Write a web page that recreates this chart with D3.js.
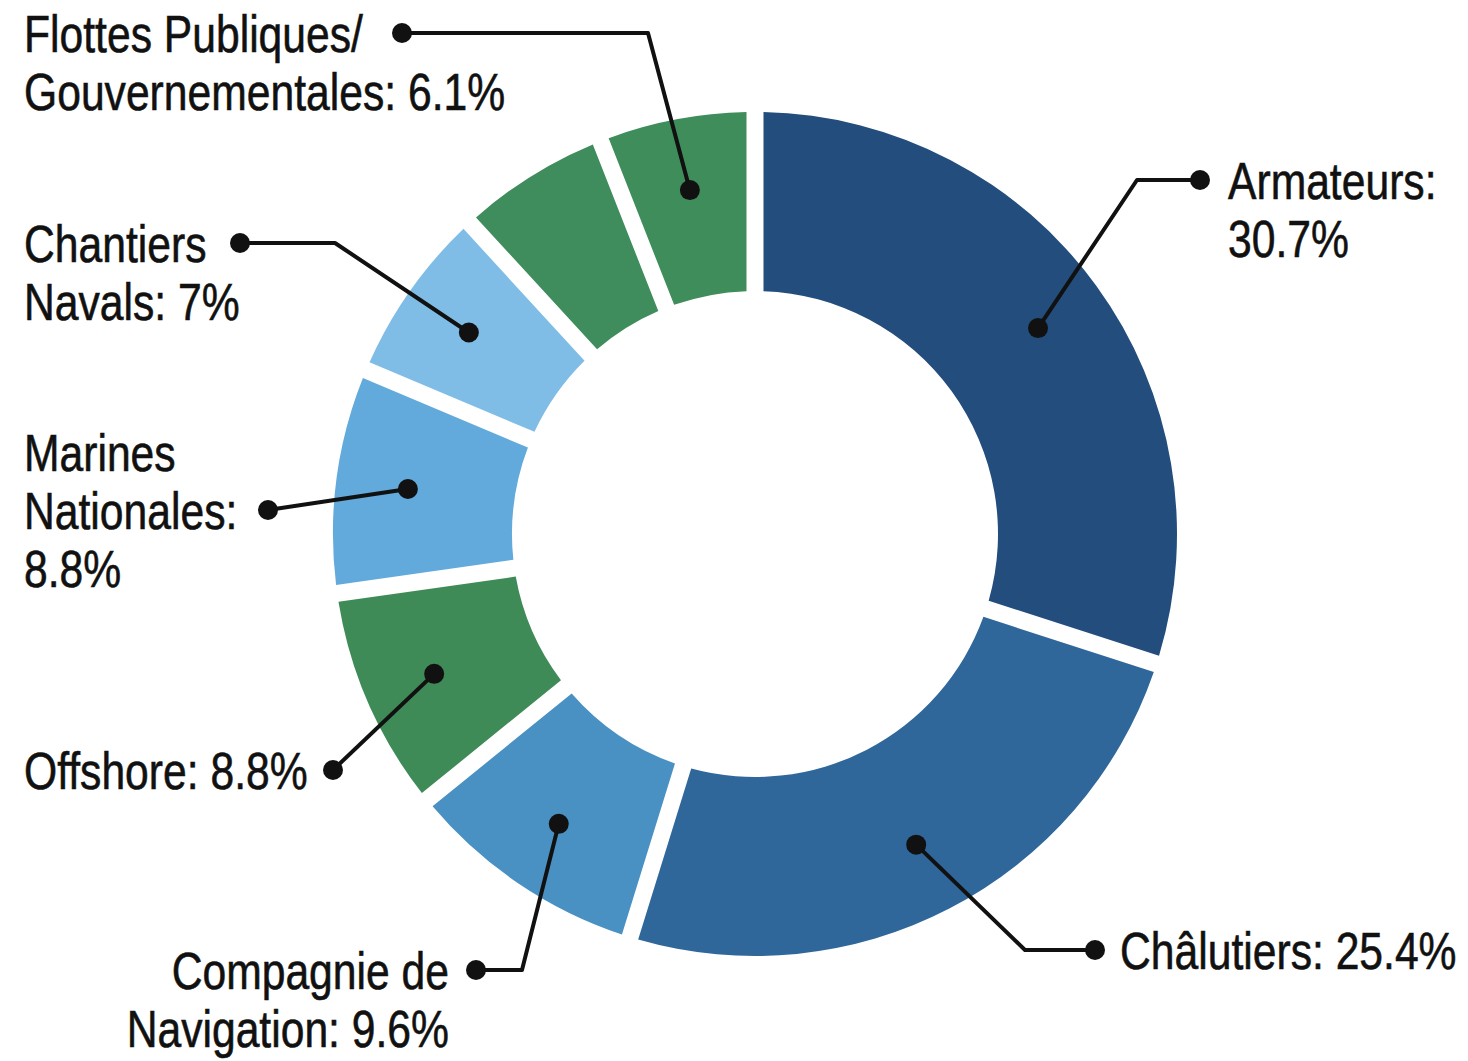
<!DOCTYPE html>
<html lang="fr">
<head>
    <meta charset="UTF-8">
    <script src="https://d3js.org/d3.v7.min.js"></script>
    <title>Répartition</title>
</head>
<body>
    <svg id="chart" width="1468" height="1061"></svg>
    <script type="text/javascript">
        // data (clockwise from 12 o'clock)
        var categories = ["Armateurs", "Châlutiers", "Compagnie de Navigation", "Offshore",
                          "Marines Nationales", "Chantiers Navals", "", "Flottes Publiques/ Gouvernementales"]
        var values = [30.7, 25.4, 9.6, 8.8, 8.8, 7, 6, 6.1]
        var colors = ["#234d7c", "#30679b", "#4a91c3", "#3f8b58", "#62aadc", "#80bde6", "#3f8c5c", "#408d5c"]

        // where each label goes: dot at the text end, optional elbow, words per line,
        // which line sits level with the dot
        var labelLayout = [
            {dot: [1200, 180], elbow: [1137, 180], tx: 1228, anchor: "start", lines: [1, 1], row: 0},
            {dot: [1095, 950], elbow: [1025, 950], tx: 1120, anchor: "start", lines: [3], row: 0},
            {dot: [476, 970], elbow: [522, 970], tx: 449, anchor: "end", lines: [2, 2], row: 0},
            {dot: [333, 770], elbow: null, tx: 24, anchor: "start", lines: [2], row: 0},
            {dot: [268, 510], elbow: null, tx: 24, anchor: "start", lines: [1, 1, 1], row: 1},
            {dot: [240, 243], elbow: [335, 243], tx: 24, anchor: "start", lines: [1, 2], row: 0},
            null,
            {dot: [402, 33], elbow: [648, 33], tx: 24, anchor: "start", lines: [2, 2], row: 0}
        ]

        var svg = d3.select("#chart"),
            cx = 755, cy = 534,
            outerR = 422, innerR = 243,
            lineH = 58,
            narrow = 0.82   // squeeze Liberation Sans to a narrow face

        svg.append("rect").attr("width", 1468).attr("height", 1061).attr("fill", "#ffffff")

        var data = categories.map((c, i) => ({name: c, value: values[i], color: colors[i], layout: labelLayout[i]}))

        var pie = d3.pie().sort(null).value(d => d.value)
        var arc = d3.arc()
            .innerRadius(innerR)
            .outerRadius(outerR)
            .padRadius(outerR)
            .padAngle(17 / outerR)
        var dotArc = d3.arc().innerRadius(350).outerRadius(350)

        var g = svg.append("g").attr("transform", `translate(${cx},${cy})`)
        var arcs = pie(data)

        g.selectAll(".slice")
            .data(arcs)
            .enter().append("path")
            .attr("class", "slice")
            .attr("d", arc)
            .attr("fill", d => d.data.color)

        var labelled = arcs.filter(d => d.data.layout)

        // leader lines
        svg.selectAll(".leader")
            .data(labelled)
            .enter().append("polyline")
            .attr("class", "leader")
            .attr("fill", "none")
            .attr("stroke", "#111")
            .attr("stroke-width", 4)
            .attr("stroke-linejoin", "round")
            .attr("points", d => {
                var c = dotArc.centroid(d)
                var pts = [[cx + c[0], cy + c[1]]]
                if (d.data.layout.elbow) pts.push(d.data.layout.elbow)
                pts.push(d.data.layout.dot)
                return pts.map(p => p.join(",")).join(" ")
            })

        svg.selectAll(".inner-dot")
            .data(labelled)
            .enter().append("circle")
            .attr("class", "inner-dot")
            .attr("cx", d => cx + dotArc.centroid(d)[0])
            .attr("cy", d => cy + dotArc.centroid(d)[1])
            .attr("r", 10)
            .attr("fill", "#111")

        svg.selectAll(".outer-dot")
            .data(labelled)
            .enter().append("circle")
            .attr("class", "outer-dot")
            .attr("cx", d => d.data.layout.dot[0])
            .attr("cy", d => d.data.layout.dot[1])
            .attr("r", 10)
            .attr("fill", "#111")

        // labels
        labelled.forEach(d => {
            var L = d.data.layout
            var words = (d.data.name + ": " + d.data.value + "%").split(" ")
            var rows = [], k = 0
            L.lines.forEach(n => { rows.push(words.slice(k, k + n).join(" ")); k += n })
            var text = svg.append("text")
                .attr("class", "label")
                .attr("transform", `translate(${L.tx},0) scale(${narrow},1)`)
                .attr("text-anchor", L.anchor)
                .attr("font-family", "'Liberation Sans', Arial, sans-serif")
                .attr("font-size", 52)
                .attr("fill", "#111")
                .attr("stroke", "#111")
                .attr("stroke-width", 0.6)
            rows.forEach((r, i) => {
                text.append("tspan")
                    .attr("x", 0)
                    .attr("y", L.dot[1] + 19 + (i - L.row) * lineH)
                    .text(r)
            })
        })
    </script>
</body>
<style>
body { margin: 0; background: #ffffff; }
svg { display: block; }
</style>
</html>
